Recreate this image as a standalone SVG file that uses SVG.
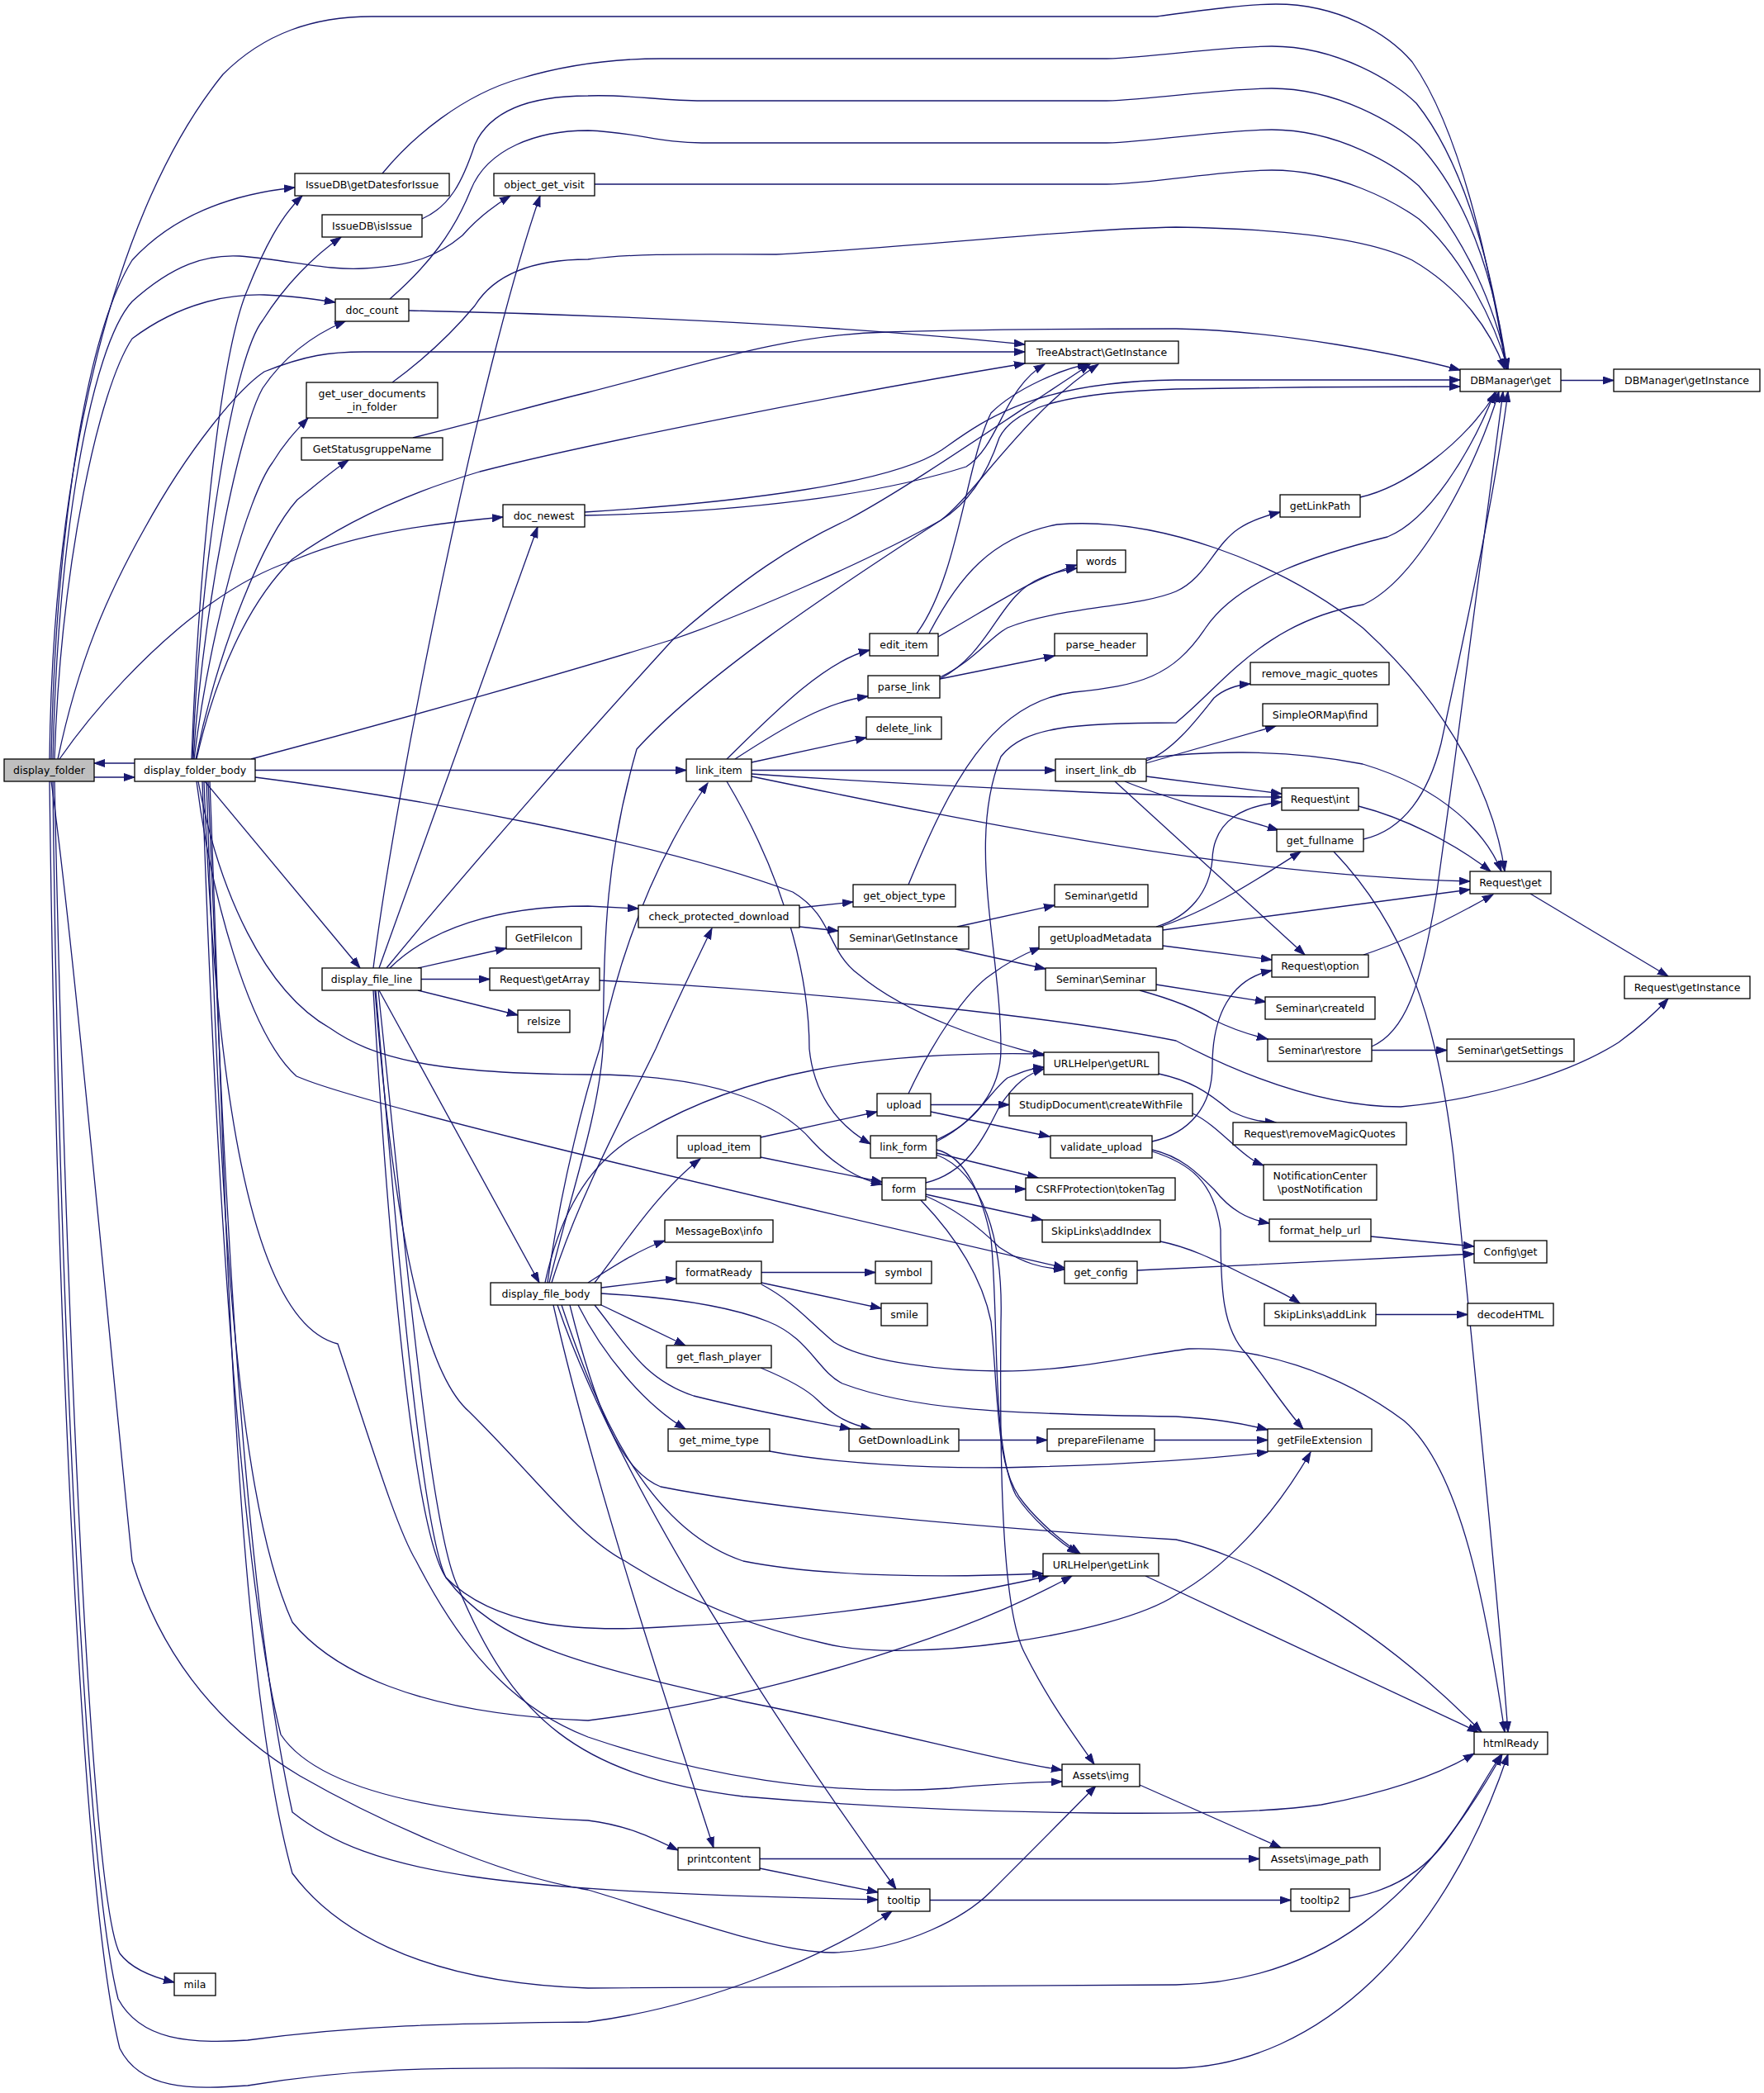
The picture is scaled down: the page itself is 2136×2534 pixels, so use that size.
<svg xmlns="http://www.w3.org/2000/svg" width="2136" height="2534" viewBox="0 0 2136 2534">
<style>
.n rect{fill:#fff;stroke:#000;stroke-width:1.3}
.n.g rect{fill:#bfbfbf}
text{font-family:"DejaVu Sans","Liberation Sans",sans-serif;font-size:12.5px;text-anchor:middle;fill:#000}
.e path{fill:none;stroke:#191970;stroke-width:1.3;marker-end:url(#a)}
</style>
<defs>
<marker id="a" markerWidth="14" markerHeight="10" refX="13" refY="5" orient="auto" markerUnits="userSpaceOnUse"><path d="M0,0.5 L13,5 L0,9.5 z" fill="#191970" stroke="#191970" stroke-width="1"/></marker>
</defs>
<rect width="2136" height="2534" fill="#fff"/>
<g id="edges" class="e">
<path d="M114,941 L163,941"/>
<path d="M163,924 L114,924"/>
<path d="M62,919 C66,700 95,420 160,315 C215,255 290,234 357,227"/>
<path d="M60,919 C64,560 140,250 270,90 C320,40 380,20 450,20 L1400,20 C1460,12 1510,5 1545,5 C1620,5 1680,40 1710,75 C1770,160 1805,330 1824,447"/>
<path d="M64,919 C70,650 110,420 160,365 C210,320 250,308 290,310 C350,315 400,328 440,325 C500,322 530,310 560,285 C580,262 600,248 618,237"/>
<path d="M66,919 C74,680 120,470 160,410 C220,365 280,356 320,357 C350,358 380,362 406,366"/>
<path d="M70,919 C95,800 130,720 175,640 C230,540 290,470 320,450 C370,430 400,426 440,426 L1241,426"/>
<path d="M72,919 C120,850 180,790 227,752 C280,710 320,690 354,679 C420,650 500,636 609,626"/>
<path d="M232,919 C240,700 265,430 300,350 C320,300 340,262 366,237"/>
<path d="M233,919 C245,650 285,430 318,388 C345,345 380,310 413,287"/>
<path d="M234,919 C248,720 290,520 318,470 C345,430 380,405 418,389"/>
<path d="M235,919 C255,760 300,600 330,560 C345,535 360,520 373,506"/>
<path d="M237,919 C265,780 320,650 360,605 C385,585 405,568 422,557"/>
<path d="M238,919 C260,820 300,730 354,677 C420,630 500,595 581,571 C700,540 1000,480 1241,440"/>
<path d="M304,919 C500,867 700,810 812,775 C900,745 1050,680 1139,630 C1180,605 1200,560 1210,530 C1230,490 1300,475 1424,471 C1600,468 1700,468 1768,468"/>
<path d="M463,210 C500,165 560,115 630,95 C680,80 740,71 800,71 L1340,71 C1400,69 1480,56 1540,56 C1620,56 1690,100 1715,125 C1775,200 1808,330 1824,447"/>
<path d="M511,265 C545,250 560,220 575,175 C595,130 650,116 712,116 C760,114 800,122 850,122 L1340,122 C1400,120 1480,107 1540,107 C1620,107 1690,150 1718,175 C1778,240 1810,340 1825,447"/>
<path d="M472,362 C520,320 550,280 570,230 C590,180 650,158 712,158 C770,160 800,173 850,173 L1340,173 C1400,171 1480,157 1540,157 C1620,157 1690,200 1718,225 C1775,290 1810,370 1826,447"/>
<path d="M720,223 L1340,223 C1400,222 1480,206 1540,206 C1620,206 1690,245 1718,265 C1770,310 1810,390 1826,447"/>
<path d="M475,463 C520,430 550,400 575,370 C600,330 650,314 712,314 C770,306 850,308 940,308 C1100,300 1300,277 1424,275 C1560,277 1660,290 1710,315 C1770,350 1805,400 1822,447"/>
<path d="M500,530 C600,505 650,490 712,475 C850,440 950,405 1075,402 C1200,398 1350,398 1424,398 C1550,400 1700,430 1768,448"/>
<path d="M495,376 C700,380 1000,392 1241,417"/>
<path d="M708,624 C900,620 1060,600 1170,565 C1210,540 1215,470 1265,441"/>
<path d="M708,620 C900,608 1080,585 1140,545 C1190,510 1250,462 1424,460 L1768,460"/>
<path d="M452,1172 C480,950 580,450 654,237"/>
<path d="M459,1172 L651,638"/>
<path d="M468,1172 C560,1060 700,900 816,773 C900,700 960,660 1025,630 C1100,590 1200,520 1320,441"/>
<path d="M472,1172 C520,1125 600,1097 712,1097 L773,1100"/>
<path d="M506,1172 L613,1148"/>
<path d="M510,1185.5 L593,1185.5"/>
<path d="M506,1199 L627,1229"/>
<path d="M459,1199 L653,1553"/>
<path d="M309,932.5 L831,932.5"/>
<path d="M248,946 L436,1172"/>
<path d="M309,941 C500,965 800,1020 960,1080 C1010,1110 1000,1150 1040,1180 C1100,1230 1200,1262 1264,1278"/>
<path d="M240,946 C265,1080 320,1200 400,1245 C450,1280 520,1300 712,1301 C850,1301 940,1330 984,1382 C1010,1410 1040,1428 1068,1434"/>
<path d="M238,946 C255,1080 300,1250 359,1303 C420,1330 700,1400 1289,1535"/>
<path d="M880,919 C940,860 1000,800 1053,787"/>
<path d="M890,919 C950,880 1000,850 1051,843"/>
<path d="M910,923 L1049,893"/>
<path d="M910,932.5 L1278,932.5"/>
<path d="M910,937 C1100,950 1400,965 1552,965"/>
<path d="M910,940 C1200,1000 1500,1060 1780,1067"/>
<path d="M880,946 C960,1080 980,1200 980,1270 C985,1320 1010,1360 1054,1385"/>
<path d="M1136,771 C1200,735 1250,700 1304,684"/>
<path d="M1138,822 C1200,790 1210,720 1260,700 C1280,692 1290,690 1304,688"/>
<path d="M1138,822 L1277,794"/>
<path d="M1138,820 C1180,800 1200,770 1220,760 C1280,735 1380,735 1424,716 C1460,700 1470,660 1500,640 C1515,630 1530,625 1550,620"/>
<path d="M1110,767 C1160,700 1170,560 1200,500 C1230,470 1290,445 1318,441"/>
<path d="M1125,767 C1160,700 1200,650 1280,635 C1400,625 1550,680 1650,760 C1760,860 1810,970 1822,1055"/>
<path d="M1647,602 C1700,590 1770,540 1812,475"/>
<path d="M1890,460.5 L1954,460.5"/>
<path d="M1388,921 C1420,910 1450,870 1470,845 C1485,832 1500,829 1514,828"/>
<path d="M1388,924 L1545,879"/>
<path d="M1388,940 L1552,961"/>
<path d="M1362,946 C1400,962 1480,985 1548,1005"/>
<path d="M1388,918 C1450,910 1550,905 1650,925 C1750,955 1800,1010 1818,1055"/>
<path d="M1350,946 L1580,1156"/>
<path d="M1645,976 C1700,990 1760,1020 1805,1055"/>
<path d="M1651,1016 C1700,1005 1730,960 1745,900 C1775,760 1810,600 1826,474"/>
<path d="M1615,1031 C1700,1120 1740,1230 1760,1400 C1790,1700 1815,1950 1826,2097"/>
<path d="M1853,1082 L2020,1182"/>
<path d="M1651,1156 C1700,1140 1760,1110 1808,1083"/>
<path d="M1408,1126 L1780,1077"/>
<path d="M1400,1122 C1440,1110 1465,1080 1468,1040 C1470,990 1510,975 1552,971"/>
<path d="M1405,1122 C1470,1100 1530,1060 1575,1031"/>
<path d="M1408,1145 L1540,1162"/>
<path d="M1159,1122 L1277,1096"/>
<path d="M1157,1149 L1266,1173"/>
<path d="M968,1099 L1033,1092"/>
<path d="M968,1122 L1015,1127"/>
<path d="M1400,1192 L1533,1213"/>
<path d="M1380,1199 C1420,1210 1450,1222 1470,1235 C1490,1245 1510,1252 1535,1258"/>
<path d="M1661,1271.5 L1752,1271.5"/>
<path d="M1661,1267 C1700,1250 1720,1200 1740,1079 C1770,860 1805,600 1820,474"/>
<path d="M1100,1071 C1150,950 1200,850 1300,838 C1380,830 1420,820 1460,760 C1500,700 1600,670 1680,650 C1730,630 1780,550 1810,475"/>
<path d="M1134,1380 C1180,1360 1212,1320 1212,1270 C1212,1150 1170,1020 1212,916 C1240,880 1300,875 1424,875 C1480,830 1530,752 1651,732 C1720,700 1790,560 1815,474"/>
<path d="M726,1187 C1000,1200 1300,1235 1424,1260 C1500,1300 1600,1340 1696,1340 C1800,1330 1900,1300 1960,1262 C1990,1240 2010,1220 2020,1209"/>
<path d="M1403,1300 C1440,1308 1460,1320 1490,1345 C1510,1355 1525,1358 1545,1359"/>
<path d="M1444,1348 C1470,1360 1495,1390 1515,1403 C1520,1407 1525,1409 1530,1411"/>
<path d="M1395,1392 C1430,1400 1450,1420 1470,1440 C1490,1465 1510,1476 1537,1481"/>
<path d="M1395,1394 C1440,1408 1470,1430 1478,1489 C1478,1560 1480,1610 1510,1640 C1540,1680 1560,1710 1578,1730"/>
<path d="M1395,1382 C1440,1372 1468,1340 1468,1290 C1468,1230 1490,1185 1540,1175"/>
<path d="M1405,1503 C1440,1510 1470,1525 1500,1540 C1530,1555 1555,1565 1574,1578"/>
<path d="M1666,1591.5 L1777,1591.5"/>
<path d="M1660,1497 L1785,1509"/>
<path d="M1377,1538 C1500,1532 1650,1525 1785,1518"/>
<path d="M1398,1743.5 L1535,1743.5"/>
<path d="M1161,1743.5 L1268,1743.5"/>
<path d="M932,1757 C1000,1770 1121,1780 1250,1776 C1350,1773 1450,1768 1535,1758"/>
<path d="M728,1566 C800,1570 880,1580 930,1600 C980,1620 990,1660 1020,1675 C1100,1705 1200,1712 1424,1715 C1470,1718 1500,1722 1535,1731"/>
<path d="M921,1656 C950,1668 975,1680 990,1695 C1010,1715 1030,1725 1055,1730"/>
<path d="M922,1540.5 L1060,1540.5"/>
<path d="M922,1553 L1067,1584"/>
<path d="M922,1555 C960,1575 980,1600 1010,1625 C1050,1650 1150,1660 1212,1660 C1300,1660 1380,1640 1440,1633 C1520,1630 1620,1660 1700,1720 C1770,1780 1800,1950 1822,2097"/>
<path d="M921,1377 L1062,1346"/>
<path d="M921,1401 L1068,1431"/>
<path d="M1127,1337.5 L1222,1337.5"/>
<path d="M1127,1346 L1271,1376"/>
<path d="M1100,1324 C1130,1260 1170,1200 1200,1180 C1220,1165 1240,1155 1260,1147"/>
<path d="M1134,1382 C1180,1360 1200,1320 1220,1305 C1240,1297 1250,1293 1264,1292"/>
<path d="M1121,1432 C1170,1420 1190,1380 1210,1340 C1230,1310 1245,1300 1264,1294"/>
<path d="M1134,1396 L1257,1426"/>
<path d="M1121,1439.5 L1242,1439.5"/>
<path d="M1121,1446 L1262,1477"/>
<path d="M1121,1448 C1160,1465 1190,1490 1210,1510 C1240,1530 1260,1535 1289,1537"/>
<path d="M1134,1392 C1170,1400 1190,1450 1200,1500 C1210,1600 1200,1750 1230,1810 C1250,1840 1280,1865 1305,1881"/>
<path d="M1115,1453 C1160,1500 1190,1550 1200,1600 C1210,1700 1205,1780 1240,1820 C1260,1845 1285,1865 1308,1881"/>
<path d="M1134,1398 C1190,1420 1215,1500 1212,1600 C1210,1800 1215,1950 1240,2000 C1270,2060 1300,2100 1325,2136"/>
<path d="M663,1553 C680,1430 710,1320 726,1270 C745,1180 780,1060 857,948"/>
<path d="M668,1553 C700,1450 760,1340 794,1270 C820,1210 845,1160 862,1124"/>
<path d="M665,1553 C690,1450 725,1350 730,1270 C732,1150 730,1050 771,907 C850,820 1000,720 1139,630 C1180,600 1240,500 1330,441"/>
<path d="M720,1553 C760,1500 800,1440 848,1403"/>
<path d="M712,1553 C740,1535 770,1515 805,1502"/>
<path d="M728,1559 L819,1548"/>
<path d="M728,1580 L830,1629"/>
<path d="M720,1580 C760,1630 780,1670 840,1690 C920,1710 980,1720 1030,1730"/>
<path d="M700,1580 C730,1640 780,1700 830,1730"/>
<path d="M660,1553 C680,1460 720,1400 780,1370 C900,1300 1050,1272 1264,1276"/>
<path d="M690,1580 C720,1700 750,1780 800,1800 C950,1830 1200,1850 1424,1864 C1500,1880 1650,1950 1794,2097"/>
<path d="M680,1580 C720,1700 780,1850 900,1890 C1000,1910 1150,1910 1263,1905"/>
<path d="M670,1580 C720,1800 820,2100 864,2237"/>
<path d="M675,1580 C750,1800 950,2100 1085,2287"/>
<path d="M452,1199 C470,1500 500,1850 540,1910 C600,1970 700,1976 800,1970 C1000,1960 1150,1935 1270,1908"/>
<path d="M455,1199 C480,1500 510,1850 540,1910 C600,1990 700,2015 900,2060 C1100,2100 1200,2130 1286,2143"/>
<path d="M458,1199 C490,1500 520,1850 554,1920 C620,2080 700,2150 900,2175 C1200,2200 1500,2200 1600,2185 C1680,2170 1740,2150 1785,2123"/>
<path d="M454,1199 C470,1400 500,1650 568,1709 C650,1790 700,1860 757,1890 C820,1930 900,1968 1000,1990 C1100,2015 1350,1980 1424,1931 C1480,1900 1540,1840 1587,1758"/>
<path d="M247,946 C260,1300 300,1600 409,1627 C450,1750 480,1850 504,1890 C540,1960 600,2060 712,2103 C850,2150 1000,2175 1150,2165 C1200,2160 1250,2158 1286,2157"/>
<path d="M250,946 C265,1400 280,1800 354,1964 C400,2020 500,2075 712,2083 C900,2060 1150,1990 1298,1908"/>
<path d="M252,946 C270,1400 290,1900 354,2194 C450,2270 600,2290 1063,2300"/>
<path d="M254,946 C272,1400 280,2000 354,2268 C400,2330 500,2400 712,2407 L1424,2403 C1600,2400 1720,2300 1819,2124"/>
<path d="M245,946 C260,1400 290,1900 340,2100 C380,2160 500,2195 712,2204 C760,2210 790,2225 821,2240"/>
<path d="M62,946 C90,1150 130,1600 160,1890 C200,2020 280,2100 363,2150 C450,2200 600,2270 712,2288 C850,2330 950,2365 1010,2364 C1100,2360 1170,2320 1200,2290 C1250,2240 1300,2190 1327,2162"/>
<path d="M64,946 C70,1500 100,2250 143,2420 C170,2470 230,2475 300,2470 C450,2450 560,2450 712,2448 C850,2430 1000,2370 1080,2314"/>
<path d="M60,946 C68,1600 100,2300 145,2480 C170,2530 230,2530 300,2525 C450,2500 560,2504 712,2504 L1424,2504 C1600,2500 1750,2350 1826,2124"/>
<path d="M66,946 C80,1600 110,2300 145,2365 C160,2385 190,2395 211,2400"/>
<path d="M920,2250.5 L1525,2250.5"/>
<path d="M920,2262 L1063,2291"/>
<path d="M1126,2300.5 L1563,2300.5"/>
<path d="M1634,2298 C1680,2290 1720,2270 1750,2230 C1780,2190 1800,2150 1818,2124"/>
<path d="M1380,2161 L1551,2237"/>
<path d="M1387,1908 L1790,2097"/>
</g>
<g id="node-display_folder" class="n g"><rect x="5" y="919" width="109" height="27"/><text x="59.5" y="937">display_folder</text></g>
<g id="node-display_folder_body" class="n"><rect x="163" y="919" width="146" height="27"/><text x="236" y="937">display_folder_body</text></g>
<g id="node-getDatesforIssue" class="n"><rect x="357" y="210" width="187" height="27"/><text x="450.5" y="228">IssueDB\getDatesforIssue</text></g>
<g id="node-isIssue" class="n"><rect x="390" y="260" width="121" height="27"/><text x="450.5" y="278">IssueDB\isIssue</text></g>
<g id="node-object_get_visit" class="n"><rect x="598" y="210" width="122" height="27"/><text x="659" y="228">object_get_visit</text></g>
<g id="node-doc_count" class="n"><rect x="406" y="362" width="89" height="27"/><text x="450.5" y="380">doc_count</text></g>
<g id="node-get_user_documents_in_folder" class="n"><rect x="371" y="463" width="159" height="43"/><text x="450.5" y="481">get_user_documents</text><text x="450.5" y="497">_in_folder</text></g>
<g id="node-GetStatusgruppeName" class="n"><rect x="365" y="530" width="171" height="27"/><text x="450.5" y="548">GetStatusgruppeName</text></g>
<g id="node-doc_newest" class="n"><rect x="609" y="611" width="99" height="27"/><text x="658.5" y="629">doc_newest</text></g>
<g id="node-TreeAbstract_GetInstance" class="n"><rect x="1241" y="413" width="186" height="27"/><text x="1334" y="431">TreeAbstract\GetInstance</text></g>
<g id="node-DBManager_get" class="n"><rect x="1768" y="447" width="122" height="27"/><text x="1829" y="465">DBManager\get</text></g>
<g id="node-DBManager_getInstance" class="n"><rect x="1954" y="447" width="177" height="27"/><text x="2042.5" y="465">DBManager\getInstance</text></g>
<g id="node-getLinkPath" class="n"><rect x="1550" y="599" width="97" height="27"/><text x="1598.5" y="617">getLinkPath</text></g>
<g id="node-words" class="n"><rect x="1304" y="666" width="59" height="27"/><text x="1333.5" y="684">words</text></g>
<g id="node-edit_item" class="n"><rect x="1053" y="767" width="83" height="27"/><text x="1094.5" y="785">edit_item</text></g>
<g id="node-parse_header" class="n"><rect x="1277" y="767" width="112" height="27"/><text x="1333" y="785">parse_header</text></g>
<g id="node-parse_link" class="n"><rect x="1051" y="818" width="87" height="27"/><text x="1094.5" y="836">parse_link</text></g>
<g id="node-remove_magic_quotes" class="n"><rect x="1514" y="802" width="168" height="27"/><text x="1598" y="820">remove_magic_quotes</text></g>
<g id="node-SimpleORMap_find" class="n"><rect x="1529" y="852" width="139" height="27"/><text x="1598.5" y="870">SimpleORMap\find</text></g>
<g id="node-delete_link" class="n"><rect x="1049" y="868" width="91" height="27"/><text x="1094.5" y="886">delete_link</text></g>
<g id="node-link_item" class="n"><rect x="831" y="919" width="79" height="27"/><text x="870.5" y="937">link_item</text></g>
<g id="node-insert_link_db" class="n"><rect x="1278" y="919" width="110" height="27"/><text x="1333" y="937">insert_link_db</text></g>
<g id="node-Request_int" class="n"><rect x="1552" y="954" width="93" height="27"/><text x="1598.5" y="972">Request\int</text></g>
<g id="node-get_fullname" class="n"><rect x="1546" y="1004" width="105" height="27"/><text x="1598.5" y="1022">get_fullname</text></g>
<g id="node-Request_get" class="n"><rect x="1780" y="1055" width="98" height="27"/><text x="1829" y="1073">Request\get</text></g>
<g id="node-get_object_type" class="n"><rect x="1033" y="1071" width="124" height="27"/><text x="1095" y="1089">get_object_type</text></g>
<g id="node-Seminar_getId" class="n"><rect x="1277" y="1071" width="113" height="27"/><text x="1333.5" y="1089">Seminar\getId</text></g>
<g id="node-check_protected_download" class="n"><rect x="773" y="1096" width="195" height="27"/><text x="870.5" y="1114">check_protected_download</text></g>
<g id="node-GetFileIcon" class="n"><rect x="613" y="1122" width="91" height="27"/><text x="658.5" y="1140">GetFileIcon</text></g>
<g id="node-Seminar_GetInstance" class="n"><rect x="1015" y="1122" width="158" height="27"/><text x="1094" y="1140">Seminar\GetInstance</text></g>
<g id="node-getUploadMetadata" class="n"><rect x="1258" y="1122" width="150" height="27"/><text x="1333" y="1140">getUploadMetadata</text></g>
<g id="node-Request_option" class="n"><rect x="1540" y="1156" width="117" height="27"/><text x="1598.5" y="1174">Request\option</text></g>
<g id="node-display_file_line" class="n"><rect x="390" y="1172" width="120" height="27"/><text x="450" y="1190">display_file_line</text></g>
<g id="node-Request_getArray" class="n"><rect x="593" y="1172" width="133" height="27"/><text x="659.5" y="1190">Request\getArray</text></g>
<g id="node-Seminar_Seminar" class="n"><rect x="1266" y="1172" width="134" height="27"/><text x="1333" y="1190">Seminar\Seminar</text></g>
<g id="node-Request_getInstance" class="n"><rect x="1967" y="1182" width="152" height="27"/><text x="2043" y="1200">Request\getInstance</text></g>
<g id="node-Seminar_createId" class="n"><rect x="1532" y="1207" width="133" height="27"/><text x="1598.5" y="1225">Seminar\createId</text></g>
<g id="node-relsize" class="n"><rect x="627" y="1223" width="63" height="27"/><text x="658.5" y="1241">relsize</text></g>
<g id="node-Seminar_restore" class="n"><rect x="1535" y="1258" width="126" height="27"/><text x="1598" y="1276">Seminar\restore</text></g>
<g id="node-Seminar_getSettings" class="n"><rect x="1752" y="1258" width="154" height="27"/><text x="1829" y="1276">Seminar\getSettings</text></g>
<g id="node-URLHelper_getURL" class="n"><rect x="1264" y="1274" width="139" height="27"/><text x="1333.5" y="1292">URLHelper\getURL</text></g>
<g id="node-upload" class="n"><rect x="1062" y="1324" width="65" height="27"/><text x="1094.5" y="1342">upload</text></g>
<g id="node-StudipDocument_createWithFile" class="n"><rect x="1222" y="1324" width="222" height="27"/><text x="1333" y="1342">StudipDocument\createWithFile</text></g>
<g id="node-Request_removeMagicQuotes" class="n"><rect x="1493" y="1359" width="210" height="27"/><text x="1598" y="1377">Request\removeMagicQuotes</text></g>
<g id="node-upload_item" class="n"><rect x="820" y="1375" width="101" height="27"/><text x="870.5" y="1393">upload_item</text></g>
<g id="node-link_form" class="n"><rect x="1054" y="1375" width="80" height="27"/><text x="1094" y="1393">link_form</text></g>
<g id="node-validate_upload" class="n"><rect x="1272" y="1375" width="123" height="27"/><text x="1333.5" y="1393">validate_upload</text></g>
<g id="node-NotificationCenter_postNotification" class="n"><rect x="1530" y="1410" width="137" height="43"/><text x="1598.5" y="1428">NotificationCenter</text><text x="1598.5" y="1444">\postNotification</text></g>
<g id="node-form" class="n"><rect x="1068" y="1426" width="53" height="27"/><text x="1094.5" y="1444">form</text></g>
<g id="node-CSRFProtection_tokenTag" class="n"><rect x="1242" y="1426" width="181" height="27"/><text x="1332.5" y="1444">CSRFProtection\tokenTag</text></g>
<g id="node-format_help_url" class="n"><rect x="1537" y="1476" width="123" height="27"/><text x="1598.5" y="1494">format_help_url</text></g>
<g id="node-MessageBox_info" class="n"><rect x="805" y="1477" width="131" height="27"/><text x="870.5" y="1495">MessageBox\info</text></g>
<g id="node-SkipLinks_addIndex" class="n"><rect x="1262" y="1477" width="143" height="27"/><text x="1333.5" y="1495">SkipLinks\addIndex</text></g>
<g id="node-Config_get" class="n"><rect x="1785" y="1502" width="88" height="27"/><text x="1829" y="1520">Config\get</text></g>
<g id="node-formatReady" class="n"><rect x="819" y="1527" width="103" height="27"/><text x="870.5" y="1545">formatReady</text></g>
<g id="node-symbol" class="n"><rect x="1060" y="1527" width="68" height="27"/><text x="1094" y="1545">symbol</text></g>
<g id="node-get_config" class="n"><rect x="1289" y="1527" width="88" height="27"/><text x="1333" y="1545">get_config</text></g>
<g id="node-display_file_body" class="n"><rect x="594" y="1553" width="134" height="27"/><text x="661" y="1571">display_file_body</text></g>
<g id="node-smile" class="n"><rect x="1067" y="1578" width="56" height="27"/><text x="1095" y="1596">smile</text></g>
<g id="node-SkipLinks_addLink" class="n"><rect x="1531" y="1578" width="135" height="27"/><text x="1598.5" y="1596">SkipLinks\addLink</text></g>
<g id="node-decodeHTML" class="n"><rect x="1777" y="1578" width="104" height="27"/><text x="1829" y="1596">decodeHTML</text></g>
<g id="node-get_flash_player" class="n"><rect x="807" y="1629" width="127" height="27"/><text x="870.5" y="1647">get_flash_player</text></g>
<g id="node-get_mime_type" class="n"><rect x="809" y="1730" width="123" height="27"/><text x="870.5" y="1748">get_mime_type</text></g>
<g id="node-GetDownloadLink" class="n"><rect x="1028" y="1730" width="133" height="27"/><text x="1094.5" y="1748">GetDownloadLink</text></g>
<g id="node-prepareFilename" class="n"><rect x="1268" y="1730" width="130" height="27"/><text x="1333" y="1748">prepareFilename</text></g>
<g id="node-getFileExtension" class="n"><rect x="1535" y="1730" width="126" height="27"/><text x="1598" y="1748">getFileExtension</text></g>
<g id="node-URLHelper_getLink" class="n"><rect x="1263" y="1881" width="140" height="27"/><text x="1333" y="1899">URLHelper\getLink</text></g>
<g id="node-htmlReady" class="n"><rect x="1785" y="2097" width="89" height="27"/><text x="1829.5" y="2115">htmlReady</text></g>
<g id="node-Assets_img" class="n"><rect x="1286" y="2136" width="94" height="27"/><text x="1333" y="2154">Assets\img</text></g>
<g id="node-printcontent" class="n"><rect x="821" y="2237" width="99" height="27"/><text x="870.5" y="2255">printcontent</text></g>
<g id="node-Assets_image_path" class="n"><rect x="1525" y="2237" width="146" height="27"/><text x="1598" y="2255">Assets\image_path</text></g>
<g id="node-tooltip" class="n"><rect x="1063" y="2287" width="63" height="27"/><text x="1094.5" y="2305">tooltip</text></g>
<g id="node-tooltip2" class="n"><rect x="1563" y="2287" width="71" height="27"/><text x="1598.5" y="2305">tooltip2</text></g>
<g id="node-mila" class="n"><rect x="211" y="2389" width="50" height="27"/><text x="236" y="2407">mila</text></g>
</svg>
